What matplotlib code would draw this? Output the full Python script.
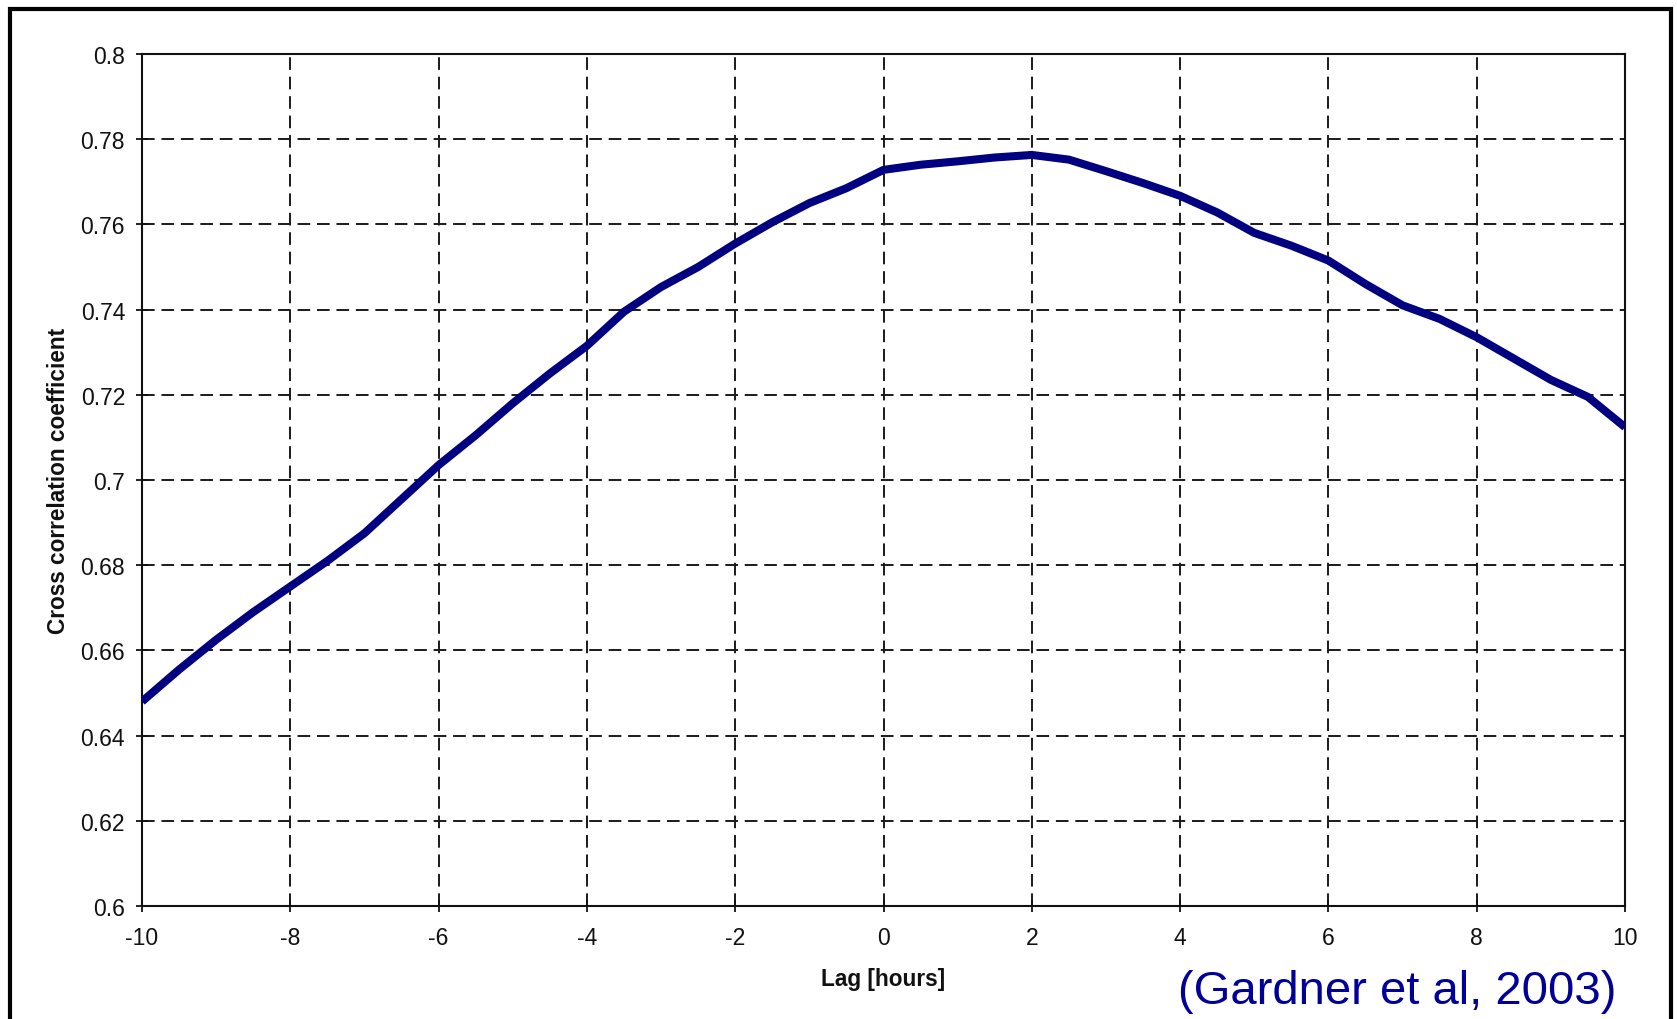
import matplotlib
matplotlib.use("Agg")
import matplotlib.pyplot as plt
from matplotlib.lines import Line2D

plt.rcParams["font.family"] = ["Liberation Sans", "DejaVu Sans"]
plt.rcParams["axes.unicode_minus"] = False

# lag in hours and cross correlation
lag = [-10, -9.5, -9, -8.5, -8, -7.5, -7, -6.5, -6, -5.5, -5, -4.5, -4, -3.5,
       -3, -2.5, -2, -1.5, -1, -0.5, 0, 0.5, 1, 1.5, 2, 2.5, 3, 3.5, 4, 4.5,
       5, 5.5, 6, 6.5, 7, 7.5, 8, 8.5, 9, 9.5, 10]
corr = [0.648, 0.6555, 0.6625, 0.669, 0.675, 0.681, 0.6875, 0.6955, 0.7035,
        0.7105, 0.718, 0.725, 0.7315, 0.7395, 0.7453, 0.750, 0.7555, 0.7605,
        0.765, 0.7685, 0.7728, 0.774, 0.7748, 0.7757, 0.7763, 0.7752, 0.7725,
        0.7697, 0.7667, 0.7628, 0.758, 0.755, 0.7515, 0.746, 0.741, 0.7378,
        0.7335, 0.7285, 0.7235, 0.7195, 0.7124]

xticks = list(range(-10, 11, 2))
yticks = [0.6, 0.62, 0.64, 0.66, 0.68, 0.7, 0.72, 0.74, 0.76, 0.78, 0.8]
yticklabels = ["0.6", "0.62", "0.64", "0.66", "0.68", "0.7", "0.72", "0.74",
               "0.76", "0.78", "0.8"]

fig = plt.figure(figsize=(16.77, 10.2), dpi=100)
ax = fig.add_axes([0.0847, 0.1108, 0.8843, 0.8353])

ax.plot(lag, corr, color="#000080", lw=5.8, solid_capstyle="butt", zorder=3)

ax.set_xlim(-10, 10)
ax.set_ylim(0.6, 0.8)
ax.set_xticks(xticks)
ax.set_yticks(yticks)
ax.set_yticklabels(yticklabels)
ax.grid(True, color="#1a1a1a", lw=1.4, ls=(0, (6.5, 3.5)))
ax.set_axisbelow(True)

for s in ax.spines.values():
    s.set_linewidth(1.5)
    s.set_color("#111111")

ax.tick_params(axis="both", direction="inout", length=8.5, width=1.3,
               color="#111111", labelsize=16.5, labelcolor="#111111")
ax.tick_params(axis="x", pad=10)
ax.tick_params(axis="y", pad=8)

ax.set_xlabel("Lag [hours]", fontsize=16.3, fontweight="bold", color="#111111")
ax.set_ylabel("Cross correlation coefficient", fontsize=16.3,
              fontweight="bold", color="#111111")
ax.xaxis.set_label_coords(0.5, -0.0716)
ax.yaxis.set_label_coords(-0.0483, 0.5)

fig.text(0.833, 0.0157, "(Gardner et al, 2003)", fontsize=34,
         color="#000099", ha="center", va="baseline")

# outer frame (bottom edge is cut off in the original)
fx = [10 / 1677, 10 / 1677, 1671 / 1677, 1671 / 1677]
fy = [-0.02, 1 - 10 / 1020, 1 - 10 / 1020, -0.02]
fig.add_artist(Line2D(fx, fy, transform=fig.transFigure, color="black",
                      lw=3, solid_joinstyle="miter"))

fig.savefig("out.png", dpi=100, facecolor="white")
